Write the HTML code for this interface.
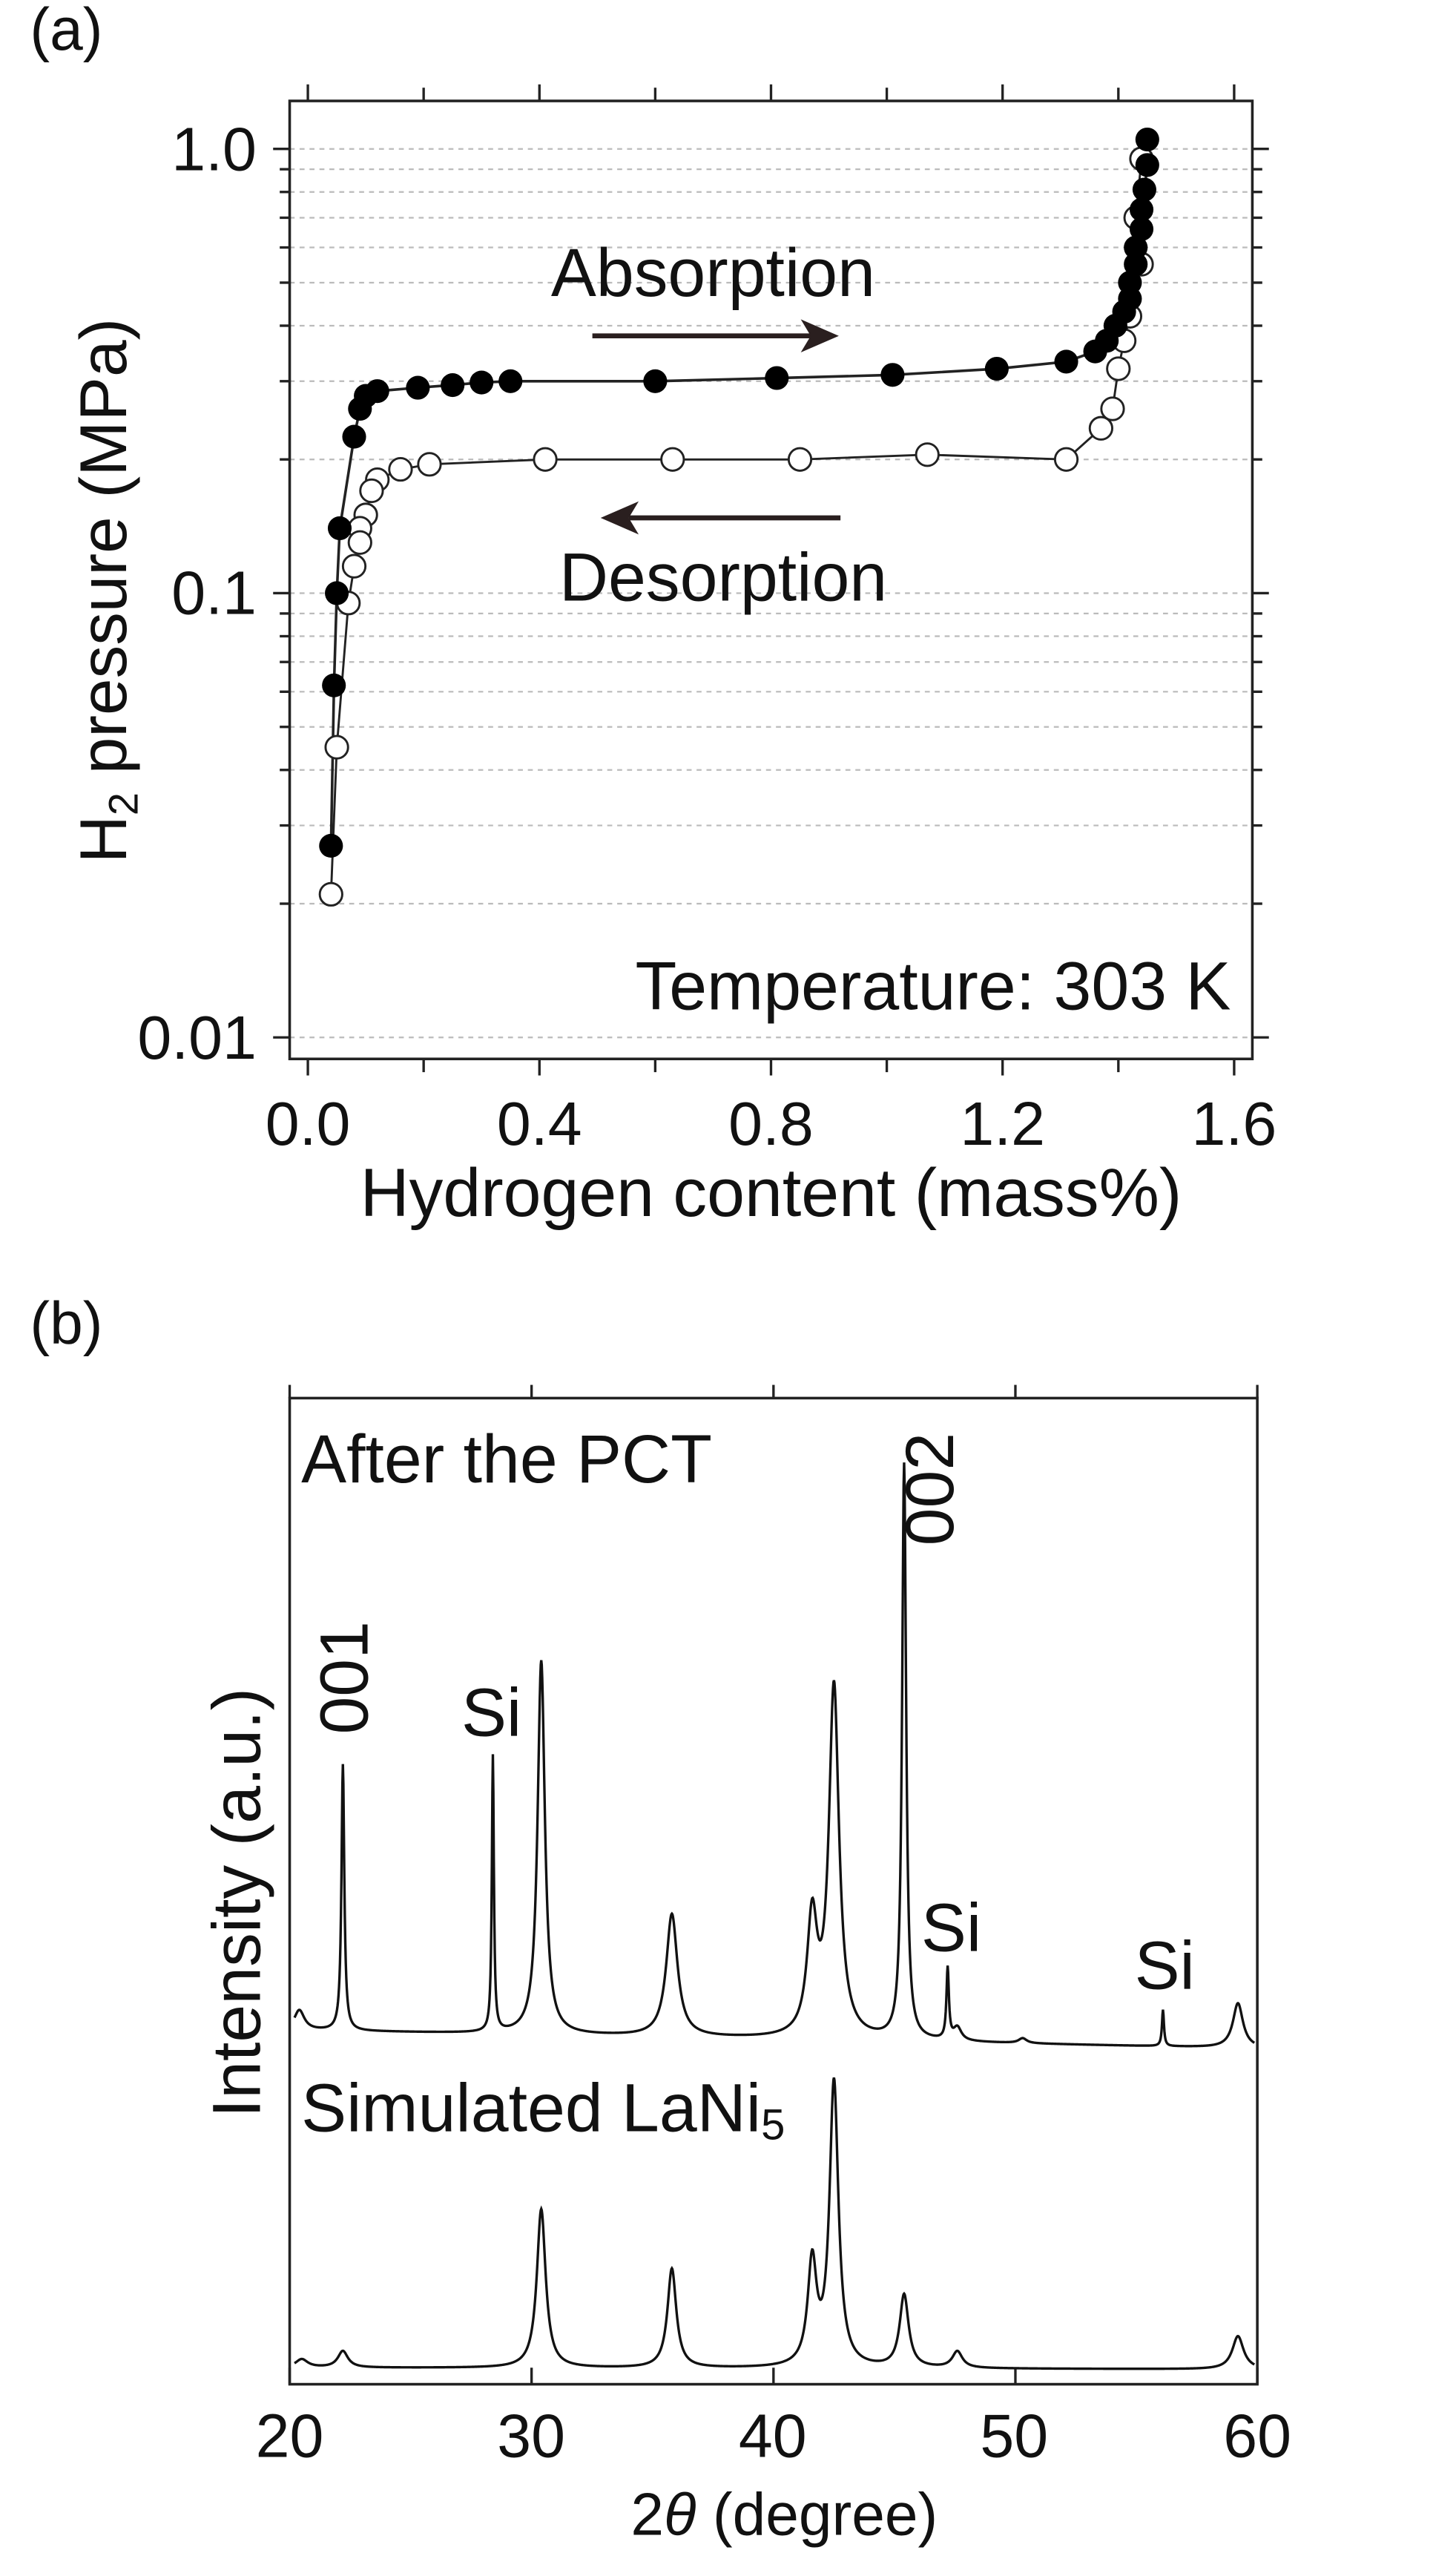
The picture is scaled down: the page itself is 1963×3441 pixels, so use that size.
<!DOCTYPE html>
<html><head><meta charset="utf-8"><style>
html,body{margin:0;padding:0;background:#fff;}
svg{display:block;}
text{font-family:"Liberation Sans",Arial,sans-serif;fill:#111;}
</style></head><body>
<svg id="s" width="1963" height="3441" viewBox="0 0 880 1543" xmlns="http://www.w3.org/2000/svg">
<rect width="880" height="1543" fill="#fff"/>
<g id="g"></g>
<!-- Panel a labels -->
<text x="18" y="30" font-size="36">(a)</text>
<text x="155" y="103" font-size="37" text-anchor="end">1.0</text>
<text x="155" y="371" font-size="37" text-anchor="end">0.1</text>
<text x="155" y="640" font-size="37" text-anchor="end">0.01</text>
<text x="186" y="692" font-size="37" text-anchor="middle">0.0</text>
<text x="326" y="692" font-size="37" text-anchor="middle">0.4</text>
<text x="466" y="692" font-size="37" text-anchor="middle">0.8</text>
<text x="606" y="692" font-size="37" text-anchor="middle">1.2</text>
<text x="746" y="692" font-size="37" text-anchor="middle">1.6</text>
<text x="466" y="735" font-size="41" text-anchor="middle">Hydrogen content (mass%)</text>
<text transform="translate(76,357) rotate(-90)" font-size="40" text-anchor="middle">H<tspan font-size="25" dy="7">2</tspan><tspan dy="-7"> pressure (MPa)</tspan></text>
<text x="333" y="179" font-size="41">Absorption</text>
<text x="338" y="363" font-size="41">Desorption</text>
<text x="744" y="610" font-size="41" text-anchor="end">Temperature: 303 K</text>
<!-- arrows -->
<line x1="358" y1="203" x2="490" y2="203" stroke="#2a1f1f" stroke-width="3"/>
<polygon points="507,203 484,193 490,203 484,213" fill="#2a1f1f"/>
<line x1="380" y1="313" x2="508" y2="313" stroke="#2a1f1f" stroke-width="3"/>
<polygon points="363,313 386,303 380,313 386,323" fill="#2a1f1f"/>
<!-- Panel b labels -->
<text x="18" y="812" font-size="36">(b)</text>
<text x="182" y="896" font-size="41">After the PCT</text>
<text x="182" y="1288" font-size="41">Simulated LaNi<tspan font-size="26" dy="5">5</tspan></text>
<text transform="translate(222,1014) rotate(-90)" font-size="41" text-anchor="middle">001</text>
<text transform="translate(576,900) rotate(-90)" font-size="41" text-anchor="middle">002</text>
<text x="297" y="1049" font-size="41" text-anchor="middle">Si</text>
<text x="575" y="1179" font-size="41" text-anchor="middle">Si</text>
<text x="704" y="1202" font-size="41" text-anchor="middle">Si</text>
<text transform="translate(157,1150) rotate(-90)" font-size="41" text-anchor="middle">Intensity (a.u.)</text>
<text x="175" y="1485" font-size="37" text-anchor="middle">20</text>
<text x="321" y="1485" font-size="37" text-anchor="middle">30</text>
<text x="467" y="1485" font-size="37" text-anchor="middle">40</text>
<text x="613" y="1485" font-size="37" text-anchor="middle">50</text>
<text x="760" y="1485" font-size="37" text-anchor="middle">60</text>
<text x="474" y="1532" font-size="36" text-anchor="middle">2<tspan font-style="italic">θ</tspan> (degree)</text>
</svg>
<script>
var g=document.getElementById('g');var NS='http://www.w3.org/2000/svg';
function el(t,a){var e=document.createElementNS(NS,t);for(var k in a)e.setAttribute(k,a[k]);g.appendChild(e);return e;}
// Panel a
var L=175,R=757,T=61,B=640;
function X(v){return 186+v*350;}function Y(p){return 90-Math.log10(p)*268.5;}
[0.01,0.1].forEach(function(d){for(var m=1;m<=9;m++){var y=Y(d*m);
el('line',{x1:L,x2:R,y1:y,y2:y,stroke:'#bbb','stroke-width':1,'stroke-dasharray':'3,3'});
if(m>1){el('line',{x1:L-6,x2:L,y1:y,y2:y,stroke:'#222','stroke-width':1.5});el('line',{x1:R,x2:R+6,y1:y,y2:y,stroke:'#222','stroke-width':1.5});}}});
var y1=Y(1);el('line',{x1:L,x2:R,y1:y1,y2:y1,stroke:'#bbb','stroke-width':1,'stroke-dasharray':'3,3'});
[1,0.1,0.01].forEach(function(p){var y=Y(p);el('line',{x1:L-10,x2:L,y1:y,y2:y,stroke:'#222','stroke-width':1.5});el('line',{x1:R,x2:R+10,y1:y,y2:y,stroke:'#222','stroke-width':1.5});});
for(var i=0;i<=8;i++){var x=X(i*0.2);var l=(i%2==0)?10:8;el('line',{x1:x,x2:x,y1:T-l,y2:T,stroke:'#222','stroke-width':1.5});el('line',{x1:x,x2:x,y1:B,y2:B+l,stroke:'#222','stroke-width':1.5});}
el('rect',{x:L,y:T,width:R-L,height:B-T,fill:'none',stroke:'#222','stroke-width':1.6});
var ab=[[0.04,0.027],[0.045,0.062],[0.05,0.1],[0.055,0.14],[0.08,0.225],[0.09,0.26],[0.1,0.278],[0.12,0.285],[0.19,0.29],[0.25,0.294],[0.3,0.298],[0.35,0.3],[0.6,0.3],[0.81,0.305],[1.01,0.31],[1.19,0.32],[1.31,0.332],[1.36,0.35],[1.38,0.37],[1.395,0.4],[1.41,0.43],[1.42,0.46],[1.42,0.5],[1.43,0.55],[1.43,0.6],[1.44,0.66],[1.44,0.73],[1.445,0.81],[1.45,0.92],[1.45,1.05]];
var de=[[1.44,0.95],[1.43,0.7],[1.44,0.55],[1.42,0.42],[1.41,0.37],[1.40,0.32],[1.39,0.26],[1.37,0.235],[1.31,0.2],[1.07,0.205],[0.85,0.2],[0.63,0.2],[0.41,0.2],[0.21,0.195],[0.16,0.19],[0.12,0.18],[0.11,0.17],[0.1,0.15],[0.09,0.14],[0.09,0.13],[0.08,0.115],[0.07,0.095],[0.05,0.045],[0.04,0.021]];
function pl(d){return d.map(function(p){return X(p[0]).toFixed(1)+','+Y(p[1]).toFixed(1);}).join(' ');}
el('polyline',{points:pl(de),fill:'none',stroke:'#222','stroke-width':1.3});
el('polyline',{points:pl(ab),fill:'none',stroke:'#222','stroke-width':1.6});
de.forEach(function(p){el('circle',{cx:X(p[0]),cy:Y(p[1]),r:6.8,fill:'#fff',stroke:'#222','stroke-width':1.3});});
ab.forEach(function(p){el('circle',{cx:X(p[0]),cy:Y(p[1]),r:7.2,fill:'#000'});});
// Panel b
var L2=175,R2=760,T2=845,B2=1441;
function X2(t){return L2+(t-20)*(R2-L2)/40;}
for(var t=20;t<=60;t+=10){var x=X2(t);el('line',{x1:x,x2:x,y1:T2-8,y2:T2,stroke:'#222','stroke-width':1.5});el('line',{x1:x,x2:x,y1:B2-10,y2:B2,stroke:'#222','stroke-width':1.5});}
el('rect',{x:L2,y:T2,width:R2-L2,height:B2-T2,fill:'none',stroke:'#222','stroke-width':1.6});
function spec(base0,base1,peaks){var s='';for(var t=20.2;t<=59.9;t+=0.02){var y=base0+(base1-base0)*(t-20)/40;var h=0;peaks.forEach(function(p){var d=(t-p[0])/p[2];h+=p[1]/(1+d*d);});s+=(s?'L':'M')+X2(t).toFixed(2)+','+(y-h).toFixed(2);}el('path',{d:s,fill:'none',stroke:'#111','stroke-width':1.5});}
spec(1227,1238,[[20.4,12,0.25],[22.2,161,0.07],[28.4,167,0.05],[30.4,226,0.18],[35.8,74,0.28],[41.6,70,0.25],[42.5,212,0.25],[45.4,348,0.1],[47.2,43,0.06],[47.6,8,0.2],[50.3,3,0.2],[56.1,22,0.05],[59.2,27,0.25]]);
spec(1431,1432,[[20.5,5,0.3],[22.2,10,0.25],[30.4,96,0.22],[35.8,60,0.22],[41.6,62,0.22],[42.5,172,0.22],[45.4,44,0.22],[47.6,10,0.25],[59.2,20,0.28]]);
</script>
</body></html>
